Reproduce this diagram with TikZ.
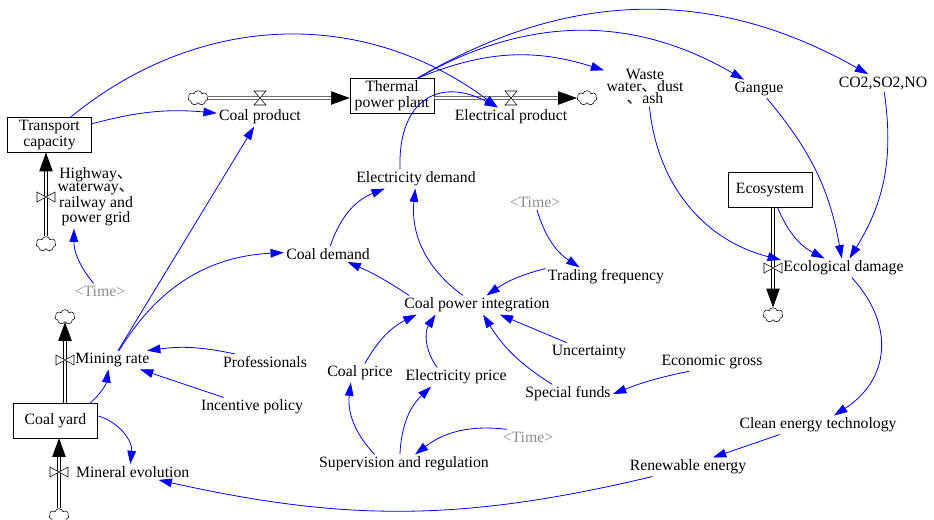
\documentclass[tikz,border=0pt]{standalone}
\usepackage{fontspec}
\setmainfont{Liberation Serif}
\newfontfamily\cjk{Noto Sans CJK SC}
\usetikzlibrary{arrows.meta,positioning,shapes.symbols}
\tikzset{
every picture/.style={
line width=0.6pt
}}
\newcommand{\dun}{{\cjk 、}}

\begin{document}
\begin{tikzpicture}[x=0.75pt, y=-0.75pt,
font=\fontsize{11.8}{12}\selectfont,
block/.style = {rectangle, draw=black, thin, align=center, fill=white,
  minimum width=63pt, minimum height=26pt, inner sep=1pt},
txt/.style = {inner sep=1.5pt, align=center},
time/.style = {txt, text=black!45},
link/.style = {draw=blue, -{Triangle[length=10pt,width=6.5pt]}},
pipe/.style = {draw=black, line width=0.5pt, double=white, double distance=1.6pt,
  -{Triangle[length=14pt,width=10pt]}},
cloudy/.style = {cloud, draw, thin, fill=white, cloud puffs=7, aspect=1.4,
  minimum width=15pt, minimum height=11pt, inner sep=0pt},
hourglass/.pic = {\draw[thin, fill=white] (-6,-7) -- (6,-7) -- (-6,7) -- (6,7) -- cycle;},
bowtie/.pic = {\draw[thin, fill=white] (-9,-5) -- (-9,5) -- (9,-5) -- (9,5) -- cycle;}]
\useasboundingbox (0,0) rectangle (934,519);

% stocks
\node [block] (tc) at (49.5,135) {Transport\\capacity};
\node [block] (tpp) at (392,96) {Thermal\\power plant};
\node [block] (eco) at (770,190) {Ecosystem};
\node [block] (cy) at (55.5,420.5) {Coal yard};

% sources and sinks
\node [cloudy] (c1) at (198,98) {};
\node [cloudy] (c2) at (587,98) {};
\node [cloudy] (c3) at (46,244) {};
\node [cloudy] (c4) at (773,315) {};
\node [cloudy] (c5) at (65,317) {};
\node [cloudy] (c6) at (59,516) {};

% flows
\draw [pipe] (c1) -- (c1 -| tpp.west);
\draw [pipe] (tpp.east |- c2) -- (c2);
\draw [pipe] (c3) -- (c3 |- tc.south);
\draw [pipe] (c4 |- eco.south) -- (c4);
\draw [pipe] (c5 |- cy.north) -- (c5);
\draw [pipe] (c6) -- (c6 |- cy.south);

\coordinate (v1) at (260,98);
\coordinate (v2) at (511,98);
\coordinate (v3) at (46,197);
\coordinate (v4) at (773,268);
\coordinate (v5) at (65,360);
\coordinate (v6) at (59,472);
\pic at (v1) {hourglass};
\pic at (v2) {hourglass};
\pic at (v3) {bowtie};
\pic at (v4) {bowtie};
\pic at (v5) {bowtie};
\pic at (v6) {bowtie};

\node [txt] (cprod) at (260,117) {Coal product};
\node [txt] (eprod) at (511,117) {Electrical product};
\node [txt, font=\fontsize{11.8}{9.4}\selectfont] (hwy) at (96,197)
  {Highway\dun\\waterway\dun\\railway and\\power grid};
\node [txt, right=6pt of v4] (ecod) {Ecological damage};
\node [txt, right=6pt of v5] (mining) {Mining rate};
\node [txt, right=11pt of v6] (mineral) {Mineral evolution};

% auxiliaries
\node [txt, font=\fontsize{11.8}{9}\selectfont] (waste) at (645,87)
  {Waste\\water\dun dust\\\dun ash};
\node [txt] (gangue) at (759,89) {Gangue};
\node [txt] (co2) at (883,83) {CO2,SO2,NO};
\node [txt] (edem) at (416,179) {Electricity demand};
\node [time] (t1) at (535,202) {\textless Time\textgreater};
\node [txt] (trade) at (606,277) {Trading frequency};
\node [txt] (cdem) at (328,254) {Coal demand};
\node [txt] (cpi) at (477,305) {Coal power integration};
\node [time] (t2) at (100,291) {\textless Time\textgreater};
\node [txt] (prof) at (265,362) {Professionals};
\node [txt] (incent) at (252,407) {Incentive policy};
\node [txt] (cprice) at (360,373) {Coal price};
\node [txt] (eprice) at (456,377) {Electricity price};
\node [txt] (uncert) at (589,352) {Uncertainty};
\node [txt] (econ) at (712,362) {Economic gross};
\node [txt] (special) at (568,394) {Special funds};
\node [time] (t3) at (528,437) {\textless Time\textgreater};
\node [txt] (superv) at (404,464) {Supervision and regulation};
\node [txt] (clean) at (818,425) {Clean energy technology};
\node [txt] (renew) at (688,467) {Renewable energy};

% links
\draw [link] (tc) to [bend left=38] (eprod);
\draw [link] (tc) to [bend left=10] (cprod);
\draw [link] (edem.149) to [bend left=60, looseness=1.5] (eprod.144);
\draw [link] (tpp.35) to [bend left=20] (waste);
\draw [link] (tpp.35) to [bend left=30] (gangue);
\draw [link] (tpp.35) to [bend left=30] (co2);
\draw [link] (waste) to [bend right=35] (ecod);
\draw [link] (gangue) to [bend left=15] (ecod);
\draw [link] (co2) to [bend left=20] (ecod);
\draw [link] (eco) to [bend right=20] (ecod);
\draw [link] (ecod) to [bend left=50, looseness=1.2] (clean);
\draw [link] (clean.194) -- (renew.21);
\draw [link] (renew.195) to [bend left=13] (mineral.-17);
\draw [link] (cy) to [bend left=40] (mineral);
\draw [link] (cy) to [bend right=20] (mining);
\draw [link] (mining) -- (cprod);
\draw [link] (mining) to [bend left=28] (cdem);
\draw [link] (prof.165) to [bend right=10] (mining.15);
\draw [link] (incent) -- (mining);
\draw [link] (t2.130) to [bend left=20] (hwy.235);
\draw [link] (cdem) to [bend left=25] (edem.197);
\draw [link] (cpi) to [bend left=30] (edem);
\draw [link] (cpi.172) to [bend right=5] (cdem);
\draw [link] (t1) to [bend right=20] (trade.160);
\draw [link] (trade.172) to [bend right=10] (cpi.45);
\draw [link] (uncert) -- (cpi);
\draw [link] (special) to [bend left=13] (cpi);
\draw [link] (cprice) to [bend left=17] (cpi.189);
\draw [link] (eprice.153) to [bend left=35] (cpi.193);
\draw [link] (superv.162) to [bend left=25] (cprice.226);
\draw [link] (superv.113) to [bend left=22] (eprice.201);
\draw [link] (t3.160) to [bend right=22] (superv.41);
\draw [link] (econ.202) to [bend right=5] (special.east);

\end{tikzpicture}
\end{document}
